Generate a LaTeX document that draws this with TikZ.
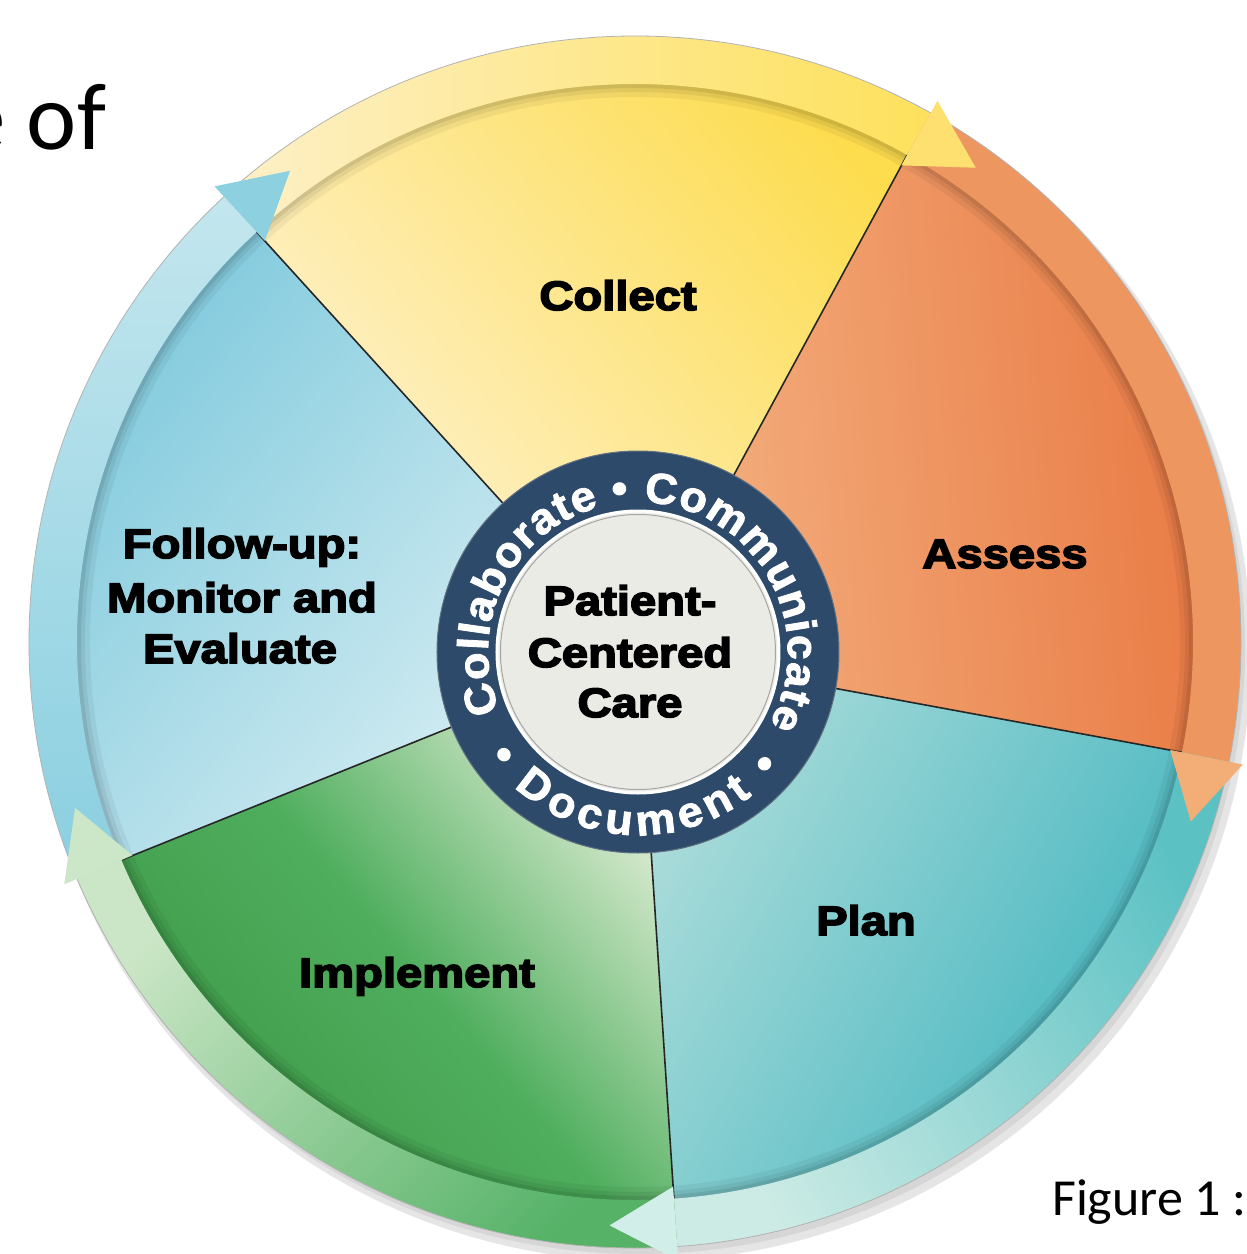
\documentclass[tikz,border=0pt]{standalone}
\usepackage{fontspec}
\setmainfont{Liberation Sans}
\newfontfamily\heavy[FakeStretch=1.15, FakeBold=4]{Liberation Sans}
\newfontfamily\ringfnt[FakeStretch=1.04, FakeBold=2]{Liberation Sans}
\newfontfamily\calib{Carlito}
\usetikzlibrary{decorations.text}

\definecolor{collectA}{HTML}{FEF3D6}
\definecolor{collectB}{HTML}{FDDC4E}
\definecolor{assessA}{HTML}{F4B383}
\definecolor{assessB}{HTML}{E8763F}
\definecolor{planA}{HTML}{ABDCDA}
\definecolor{planB}{HTML}{3FB4BE}
\definecolor{implA}{HTML}{3C9846}
\definecolor{implM}{HTML}{4FAE5E}
\definecolor{implB}{HTML}{E3EFD8}
\definecolor{fuA}{HTML}{7CC8DC}
\definecolor{fuB}{HTML}{DCF0F4}
\definecolor{blueBandL}{HTML}{C3E6EE}
\definecolor{blueBandD}{HTML}{8ACFE0}
\definecolor{yelBandL}{HTML}{FDF0C8}
\definecolor{yelBandD}{HTML}{FDE15C}
\definecolor{orBand}{HTML}{EE9660}
\definecolor{tealBandL}{HTML}{CDEBE5}
\definecolor{tealBandD}{HTML}{5BC1C3}
\definecolor{grBandL}{HTML}{CBE6C6}
\definecolor{grBandD}{HTML}{55B267}
\definecolor{blueH}{HTML}{8DD1E1}
\definecolor{yelH}{HTML}{FDE070}
\definecolor{orH}{HTML}{F3AD76}
\definecolor{tealH}{HTML}{D2EEE8}
\definecolor{grH}{HTML}{CCE7C7}
\definecolor{navy}{HTML}{2D4A6B}
\definecolor{hubIn}{HTML}{EBEBE6}

\newcommand\wedgepth[2]{(3,-10) -- (#1:575) arc[start angle=#1, end angle=#2, radius=575] -- cycle}
\newcommand\bandpth[2]{(#1:606) arc[start angle=#1, end angle=#2, radius=606] -- (#2:558) arc[start angle=#2, end angle=#1, radius=558] -- cycle}
\newcommand\headpth[1]{(#1:546) -- ({#1-6.5}:584) -- (#1:620) -- cycle}
\newcommand\ringtxt{\ringfnt\bfseries\fontsize{43}{43}\selectfont\color{white}}

\tikzset{
  lab/.style={font=\heavy\bfseries\fontsize{41}{41}\selectfont, text=black, inner sep=0pt, anchor=base},
  sepline/.style={draw=black!85, line width=1.6pt},
  slide/.style={font=\calib, text=black, inner sep=0pt, anchor=base west}
}

\begin{document}
\begin{tikzpicture}[x=1pt,y=1pt]
\useasboundingbox (-635,-612) rectangle (612,642);
\fill[white] (-635,-612) rectangle (612,642);

% slide text
\node[slide, font=\calib\fontsize{95}{95}\selectfont] (title) at (-677,492) {e of};
\node[slide, font=\calib\fontsize{52}{52}\selectfont] (fig) at (417,-573) {Figure 1 :};

% drop shadow
\fill[black!10] (7,-10) circle (609);
\fill[black!16] (4,-6) circle (606);

% wedges
\shade[top color=collectB, bottom color=collectA, shading angle=-50] \wedgepth{132.7}{60.8};
\shade[top color=assessB, bottom color=assessA, shading angle=-85] \wedgepth{60.8}{-11.4};
\shade[top color=planB, bottom color=planA, shading angle=-120] \wedgepth{-11.4}{-86};
\shade[top color=implA, bottom color=implB, middle color=implM, shading angle=130] \wedgepth{-86}{-157};
\shade[top color=fuA, bottom color=fuB, shading angle=50] \wedgepth{-157}{-227.3};

% inner shadow of the raised ring
\foreach \w/\o in {26/0.05, 16/0.06, 8/0.08}
  \draw[black, opacity=\o, line width=\w pt] (0,0) circle (558);

% separators
\coordinate (hubc) at (3,-10);
\foreach \a [count=\i] in {60.8,-11.4,-86,-157,132.7} {
  \coordinate (sep\i) at (\a:558);
  \draw[sepline] (hubc) -- (sep\i);
}

% outer arrow bands
\shade[top color=blueBandL, bottom color=blueBandD, shading angle=0] \bandpth{203}{132.7};
\shade[top color=yelBandD, bottom color=yelBandL, shading angle=-90] \bandpth{132.7}{60.8};
\fill[orBand] \bandpth{60.8}{-11.4};
\shade[top color=tealBandD, bottom color=tealBandL, shading angle=-60] \bandpth{-11.4}{-86};
\shade[top color=grBandD, bottom color=grBandL, shading angle=-135] \bandpth{-86}{-157};
\draw[black!30, line width=0.8pt] (0,0) circle (606);

% arrowheads
\fill[blueH] \headpth{132.7};
\fill[yelH] \headpth{60.8};
\fill[orH] \headpth{-11.4};
\fill[tealH] \headpth{-86};
\fill[grH] \headpth{-157};

% hub
\begin{scope}[shift={(3,-10)}]
  \fill[navy] (0,0) circle (201);
  \draw[black!30!navy!70!white, line width=1pt] (0,0) circle (201);
  \fill[hubIn] (0,0) circle (141);
  \draw[white, line width=3pt] (0,0) circle (141);
  \draw[black!35, line width=1pt] (0,0) circle (137.5);
  \path[decorate, decoration={text along path, text align={fit to path},
        text={|\ringtxt|Collaborate • Communicate}}]
    (203:150) arc[start angle=203, end angle=-29, radius=150];
  \path[decorate, decoration={text along path, text align={fit to path},
        text={|\ringtxt|• Document •}}]
    (215:183) arc[start angle=215, end angle=321, radius=183];
\end{scope}

% labels
\node[lab] (collect) at (-17,332) {Collect};
\node[lab] (assess) at (370,74) {Assess};
\node[lab] (plan) at (231,-293) {Plan};
\node[lab] (implement) at (-218,-345) {Implement};
\node[lab] (fu1) at (-393,84) {Follow-up:};
\node[lab] (fu2) at (-393,30) {Monitor and};
\node[lab] (fu3) at (-395,-21) {Evaluate};
\node[lab] (pcc1) at (-5,27) {Patient-};
\node[lab] (pcc2) at (-5,-25) {Centered};
\node[lab] (pcc3) at (-5,-75) {Care};
\end{tikzpicture}
\end{document}
